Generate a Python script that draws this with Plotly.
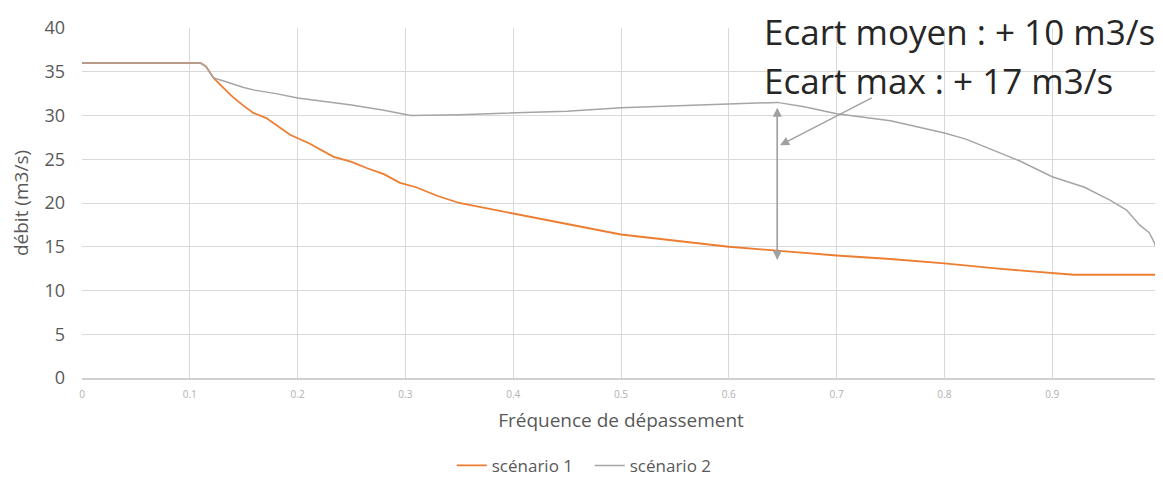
import plotly.graph_objects as go

# Scenario 1 (orange)
s1_x = [0, 0.11, 0.115, 0.122, 0.13, 0.14, 0.15, 0.159, 0.171, 0.182, 0.193, 0.211, 0.233, 0.25, 0.264, 0.28,
        0.295, 0.31, 0.33, 0.35, 0.38, 0.4, 0.45, 0.5, 0.55, 0.6, 0.65, 0.7, 0.75, 0.8, 0.85, 0.9, 0.92, 1.0]
s1_y = [36, 36, 35.6, 34.3, 33.3, 32.1, 31.1, 30.3, 29.7, 28.7, 27.8, 26.8, 25.3, 24.7, 24.0, 23.3,
        22.3, 21.8, 20.8, 20.0, 19.3, 18.8, 17.6, 16.4, 15.7, 15.0, 14.5, 14.0, 13.6, 13.1, 12.5, 12.0, 11.8, 11.8]

# Scenario 2 (gray)
s2_x = [0, 0.11, 0.115, 0.122, 0.13, 0.14, 0.15, 0.16, 0.171, 0.18, 0.2, 0.22, 0.25, 0.28, 0.305, 0.35, 0.4,
        0.45, 0.5, 0.55, 0.6, 0.645, 0.67, 0.7, 0.75, 0.8, 0.82, 0.85, 0.87, 0.9, 0.93, 0.954, 0.969, 0.981,
        0.99, 0.995, 1.0]
s2_y = [36, 36, 35.6, 34.3, 34.0, 33.6, 33.2, 32.9, 32.7, 32.5, 32.0, 31.7, 31.2, 30.6, 30.0, 30.1, 30.3,
        30.5, 30.9, 31.1, 31.3, 31.5, 31.0, 30.2, 29.4, 28.0, 27.3, 25.8, 24.8, 23.0, 21.8, 20.3, 19.2, 17.5,
        16.6, 15.4, 13.3]

x_ticks = [0, 0.1, 0.2, 0.3, 0.4, 0.5, 0.6, 0.7, 0.8, 0.9, 1]
x_tick_labels = ["0", "0.1", "0.2", "0.3", "0.4", "0.5", "0.6", "0.7", "0.8", "0.9", "1"]
y_ticks = [0, 5, 10, 15, 20, 25, 30, 35, 40]

# Gap annotation
gap_x = 0.645
gap_top = 30.9
gap_bottom = 13.5
diag_tip = (0.6475, 26.6)
diag_tail = (0.734, 32.1)
note_lines = ["Ecart moyen : + 10 m3/s", "Ecart max : + 17 m3/s"]

ORANGE = "#ED7D31"
GRAY = "#A5A5A5"
ARROW = "#A0A0A0"

fig = go.Figure()
fig.add_trace(go.Scatter(x=s1_x, y=s1_y, mode="lines", name="scénario 1",
                         line=dict(color=ORANGE, width=1.8)))
fig.add_trace(go.Scatter(x=s2_x, y=s2_y, mode="lines", name="scénario 2",
                         line=dict(color=GRAY, width=1.5)))

# Double vertical arrow
for a, b in [(gap_top, gap_bottom), (gap_bottom, gap_top)]:
    fig.add_annotation(x=gap_x, y=a, ax=gap_x, ay=b, xref="x", yref="y",
                       axref="x", ayref="y", text="", showarrow=True, arrowhead=2, arrowsize=1.3,
                       arrowwidth=1.4, arrowcolor=ARROW)
# Diagonal arrow
fig.add_annotation(x=diag_tip[0], y=diag_tip[1], ax=diag_tail[0], ay=diag_tail[1], xref="x", yref="y",
                   axref="x", ayref="y", text="", showarrow=True, arrowhead=2, arrowsize=1.3,
                   arrowwidth=1.4, arrowcolor=ARROW)

for i, line in enumerate(note_lines):
    fig.add_annotation(x=0.632, y=0.99 - 0.14 * i, xref="paper", yref="paper", text=line, showarrow=False,
                       xanchor="left", yanchor="middle", borderpad=0,
                       font=dict(family="Open Sans", size=35, color="#262626"))

fig.update_layout(
    width=1155, height=471,
    margin=dict(l=74, r=3, t=20, b=101, autoexpand=False),
    paper_bgcolor="white", plot_bgcolor="white",
    font=dict(family="Open Sans", color="#595959"),
    showlegend=True,
    legend=dict(orientation="h", x=0.343, xanchor="left", y=-0.251, yanchor="middle",
                font=dict(size=17, color="#595959"), itemwidth=30,
                entrywidth=93, entrywidthmode="pixels"),
)
fig.update_xaxes(range=[0, 1], tickvals=x_ticks, ticktext=x_tick_labels, automargin=False,
                 showgrid=True, gridcolor="#D9D9D9", gridwidth=1,
                 zeroline=False, showline=True, linecolor="#D0D0D0", linewidth=1.5,
                 tickfont=dict(size=10, color="#B0B0B0"), ticks="", ticklabelstandoff=6,
                 title=dict(text="Fréquence de dépassement", font=dict(size=19, color="#595959"), standoff=14))
fig.update_yaxes(range=[0, 40], tickvals=y_ticks, showgrid=True, gridcolor="#D9D9D9", gridwidth=1,
                 automargin=False,
                 zeroline=False, showline=False, ticks="", ticklabelstandoff=16,
                 tickfont=dict(size=18, color="#595959"),
                 title=dict(text="débit (m3/s)", font=dict(size=19, color="#595959"), standoff=11))

fig.write_html("out.html")
